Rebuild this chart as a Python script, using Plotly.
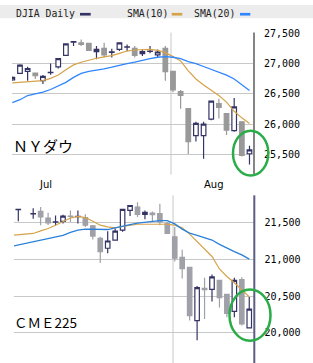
import plotly.graph_objects as go

W, H = 313, 363

# ---------------- DJIA (top) ----------------
dj_day = list(range(32))
dj_open = [26732, 26840, 26873, 26846, 26721, 26855, 26950, 27140, 27360, 27347, 27337, 27200, 27255, 27190, 27238, 27274,
           27255, 27168, 27203, 27146, 27255, 26873, 26541, 26257, 25810, 25810, 26083, 26339, 26176, 25892, 26039, 25511]
dj_high = [26790, 26993, 26950, 26850, 26813, 27004, 27090, 27335, 27366, 27402, 27340, 27293, 27347, 27249, 27350, 27320,
           27293, 27238, 27293, 27238, 27293, 26873, 26568, 26257, 26039, 26039, 26390, 26421, 26176, 26432, 26039, 25642]
dj_low = [26720, 26830, 26721, 26748, 26666, 26819, 26922, 27135, 27293, 27293, 27218, 27075, 27102, 27102, 27211, 27211,
          27102, 27129, 27173, 27102, 26721, 26530, 26257, 25505, 25712, 25429, 26067, 26094, 25821, 25876, 25467, 25331]
dj_close = [26775, 26977, 26922, 26802, 26792, 26860, 27086, 27331, 27366, 27320, 27222, 27238, 27146, 27198, 27347, 27280,
            27140, 27200, 27209, 27195, 26868, 26568, 26475, 25712, 26012, 26001, 26383, 26279, 25903, 26285, 25484, 25576]
dj_sma10 = [26683, 26693, 26704, 26710, 26721, 26759, 26813, 26901, 26982, 27026, 27064, 27091, 27113, 27135, 27173, 27211,
            27228, 27238, 27238, 27222, 27184, 27119, 27048, 26884, 26748, 26650, 26557, 26475, 26366, 26214, 26105, 26012]
dj_sma20 = [26356, 26405, 26475, 26503, 26530, 26574, 26628, 26693, 26775, 26841, 26873, 26901, 26917, 26944, 26977, 27004,
            27026, 27059, 27086, 27108, 27119, 27108, 27086, 27037, 27004, 26955, 26911, 26868, 26813, 26748, 26655, 26557]
dj_ticks = [25500, 26000, 26500, 27000, 27500]
dj_ticktext = ["25,500", "26,000", "26,500", "27,000", "27,500"]

# ---------------- CME 225 (bottom) ----------------
cme_day = [0, 2, 3, 4, 5, 6, 7, 8, 9, 10, 11, 12, 13, 14, 15, 16, 17, 18, 19, 20, 21, 22, 23, 24, 25, 26, 27, 28, 29, 30, 31]
cme_open = [21680, 21622, 21657, 21567, 21510, 21522, 21594, 21585, 21572, 21460, 21289, 21154, 21266, 21401, 21671, 21716,
            21617, 21635, 21626, 21491, 21311, 21028, 20894, 20166, 20606, 20593, 20714, 20525, 20292, 20727, 20067]
cme_high = [21684, 21702, 21716, 21640, 21603, 21612, 21671, 21671, 21617, 21470, 21311, 21388, 21424, 21690, 21740, 21783,
            21671, 21657, 21761, 21513, 21446, 21132, 20894, 20638, 20750, 20795, 20720, 20530, 20750, 20759, 20489]
cme_low = [21522, 21558, 21469, 21470, 21469, 21491, 21513, 21491, 21446, 21275, 20952, 21087, 21266, 21379, 21594, 21581,
           21549, 21522, 21469, 21356, 20974, 20741, 20166, 19896, 20188, 20426, 20346, 20211, 20211, 20098, 20067]
cme_close = [21684, 21628, 21581, 21500, 21516, 21594, 21590, 21590, 21469, 21320, 21109, 21253, 21388, 21684, 21738, 21617,
             21644, 21612, 21513, 21356, 21019, 20876, 20233, 20615, 20588, 20763, 20480, 20265, 20714, 20121, 20323]
cme_sma_day = [-1, 0, 2, 3, 4, 5, 6, 7, 8, 9, 10, 11, 12, 13, 14, 15, 16, 17, 18, 19, 20, 21, 22, 23, 24, 25, 26, 27, 28, 29, 30, 31]
cme_sma10 = [21329, 21338, 21356, 21392, 21424, 21469, 21522, 21567, 21590, 21572, 21522, 21469, 21446, 21433, 21451, 21469,
             21482, 21482, 21482, 21482, 21482, 21469, 21433, 21347, 21244, 21145, 21042, 20871, 20768, 20682, 20592, 20489]
cme_sma20 = [21177, 21199, 21235, 21257, 21284, 21307, 21329, 21370, 21401, 21415, 21415, 21410, 21410, 21433, 21460, 21478,
             21496, 21509, 21522, 21531, 21531, 21487, 21415, 21361, 21329, 21302, 21266, 21208, 21154, 21109, 21064, 21006]
cme_ticks = [20000, 20500, 21000, 21500]
cme_ticktext = ["20,000", "20,500", "21,000", "21,500"]

NAVY = "#333366"
ORANGE = "#d6a24a"
BLUE = "#2f86ff"
GRID = "#c8c8c8"
MONO = "DejaVu Sans Mono"


def px_x(x):
    return x / W


def px_y(y):
    return 1 - y / H


fig = go.Figure()

fig.add_trace(go.Candlestick(
    x=dj_day, open=dj_open, high=dj_high, low=dj_low, close=dj_close,
    xaxis="x", yaxis="y",
    increasing=dict(line=dict(color=NAVY, width=1.2), fillcolor="white"),
    decreasing=dict(line=dict(color="#999999", width=1.2), fillcolor="#999999"),
    showlegend=False, hoverinfo="skip"))
fig.add_trace(go.Scatter(x=dj_day, y=dj_sma10, mode="lines", line=dict(color=ORANGE, width=1.2),
                         xaxis="x", yaxis="y", showlegend=False, hoverinfo="skip"))
fig.add_trace(go.Scatter(x=dj_day, y=dj_sma20, mode="lines", line=dict(color=BLUE, width=1.3),
                         xaxis="x", yaxis="y", showlegend=False, hoverinfo="skip"))

fig.add_trace(go.Candlestick(
    x=cme_day, open=cme_open, high=cme_high, low=cme_low, close=cme_close,
    xaxis="x2", yaxis="y2",
    increasing=dict(line=dict(color=NAVY, width=1.2), fillcolor="white"),
    decreasing=dict(line=dict(color="#a0a0a8", width=1.2), fillcolor="#a0a0a8"),
    showlegend=False, hoverinfo="skip"))
fig.add_trace(go.Scatter(x=cme_sma_day, y=cme_sma10, mode="lines", line=dict(color=ORANGE, width=1.2),
                         xaxis="x2", yaxis="y2", showlegend=False, hoverinfo="skip"))
fig.add_trace(go.Scatter(x=cme_sma_day, y=cme_sma20, mode="lines", line=dict(color="#2a80d8", width=1.3),
                         xaxis="x2", yaxis="y2", showlegend=False, hoverinfo="skip"))

yaxis_common = dict(side="right", showgrid=True, gridcolor=GRID, gridwidth=1, zeroline=False, showline=False,
                    ticks="outside", ticklen=8, tickcolor="rgba(0,0,0,0)",
                    tickfont=dict(family=MONO, size=10, color="black"), fixedrange=True)
xaxis_common = dict(showgrid=False, zeroline=False, showticklabels=False, showline=False, ticks="",
                    rangeslider=dict(visible=False), fixedrange=True)

fig.update_layout(
    width=W, height=H, margin=dict(l=0, r=0, t=0, b=0),
    paper_bgcolor="white", plot_bgcolor="white",
    boxgap=0.14,
    xaxis=dict(domain=[px_x(12), px_x(253)], range=[-0.043, 31.46], anchor="y", **xaxis_common),
    yaxis=dict(domain=[px_y(172), px_y(28)], range=[25165, 27516], anchor="x",
               tickvals=dj_ticks, ticktext=dj_ticktext, **yaxis_common),
    xaxis2=dict(domain=[px_x(14), px_x(253.5)], range=[-0.577, 31.57], anchor="y2", **xaxis_common),
    yaxis2=dict(domain=[px_y(363), px_y(193)], range=[19586, 21877], anchor="x2",
                tickvals=cme_ticks, ticktext=cme_ticktext, **yaxis_common),
)

shapes = [
    # header band
    dict(type="rect", xref="paper", yref="paper", x0=0, x1=1, y0=px_y(13.5), y1=1,
         fillcolor="#ececec", line=dict(width=0), layer="below"),
    # legend swatches
    dict(type="rect", xref="paper", yref="paper", x0=px_x(80), x1=px_x(90.7), y0=px_y(10.7), y1=px_y(8),
         fillcolor=NAVY, line=dict(width=0)),
    dict(type="rect", xref="paper", yref="paper", x0=px_x(171.7), x1=px_x(182.3), y0=px_y(10.7), y1=px_y(8),
         fillcolor=ORANGE, line=dict(width=0)),
    dict(type="rect", xref="paper", yref="paper", x0=px_x(240), x1=px_x(250.3), y0=px_y(10.7), y1=px_y(8),
         fillcolor=BLUE, line=dict(width=0)),
    # month gridlines
    dict(type="line", xref="x", yref="y domain", x0=20.74, x1=20.74, y0=0, y1=1,
         line=dict(color=GRID, width=1), layer="below"),
    dict(type="line", xref="x2", yref="y2 domain", x0=20.77, x1=20.77, y0=0, y1=1,
         line=dict(color=GRID, width=1), layer="below"),
    # right borders
    dict(type="line", xref="paper", yref="paper", x0=px_x(254), x1=px_x(254), y0=px_y(172), y1=px_y(28),
         line=dict(color="#858585", width=2)),
    dict(type="line", xref="paper", yref="paper", x0=px_x(254.3), x1=px_x(254.3), y0=0, y1=px_y(193),
         line=dict(color="#5c5c84", width=2)),
    # green ellipses
    dict(type="circle", xref="paper", yref="paper", x0=px_x(233), x1=px_x(268.3), y0=px_y(173), y1=px_y(127.5),
         line=dict(color="#2aac48", width=2.5), layer="above"),
    dict(type="circle", xref="paper", yref="paper", x0=px_x(229.5), x1=px_x(270.5), y0=px_y(340.5), y1=px_y(288.5),
         line=dict(color="#2aac48", width=2.5), layer="above"),
]
fig.update_layout(shapes=shapes)

ann = []


def text(x, y, s, family, size, color="black", xanchor="left"):
    ann.append(dict(x=px_x(x), y=px_y(y), xref="paper", yref="paper", text=s, showarrow=False,
                    xanchor=xanchor, yanchor="middle", font=dict(family=family, size=size, color=color)))


text(14, 8.5, "DJIA Daily", MONO, 9.8, "#222222")
text(125, 8.5, "SMA(10)", MONO, 9.8, "#222222")
text(192, 8.5, "SMA(20)", MONO, 9.8, "#222222")
text(11, 142, "ＮＹダウ", "Noto Sans CJK JP", 15)
text(12, 321, "ＣＭＥ225", "Noto Sans CJK JP", 13.5)
text(45, 182, "Jul", "DejaVu Sans", 10, xanchor="center")
text(214, 182, "Aug", "DejaVu Sans", 10, xanchor="center")
fig.update_layout(annotations=ann)

fig.write_html("out.html", config={"displayModeBar": False, "staticPlot": True})
